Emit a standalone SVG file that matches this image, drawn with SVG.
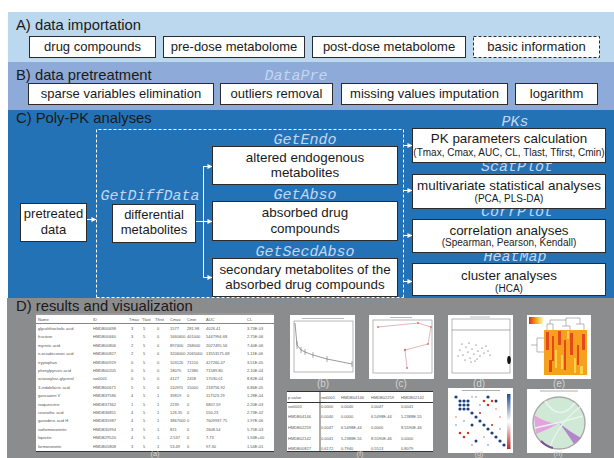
<svg xmlns="http://www.w3.org/2000/svg" width="614" height="458" viewBox="0 0 614 458">
<defs>
<style>
.t{font-family:"Liberation Sans",Arial,sans-serif;fill:#1a1a1a}
.hd{font-size:14.8px}
.bx{fill:#fff;stroke:#2b2b2b;stroke-width:1}
.bt{font-size:13px;text-anchor:middle}
.ct{font-size:13.4px;text-anchor:middle}
.sub{font-size:10px;text-anchor:middle}
.mono{font-family:"Liberation Mono","Courier New",monospace;font-style:italic;font-size:15px;fill:#c3d6f1;text-anchor:middle}
.cn{stroke:#fff;stroke-width:1;fill:none}
.dash{stroke:#fff;stroke-width:1;fill:none;stroke-dasharray:3 2}
.tb{font-family:"Liberation Sans",Arial,sans-serif;font-size:4px;fill:#555}
.pl{font-family:"Liberation Sans",Arial,sans-serif;font-size:10px;fill:#d4d4d4;text-anchor:middle}
.pb{font-size:7.5px}
.ax{stroke:#888;stroke-width:0.6;fill:none}
</style>
<marker id="ah" viewBox="0 0 6 6" refX="5.5" refY="3" markerWidth="5" markerHeight="5" orient="auto" markerUnits="userSpaceOnUse">
<path d="M0,0 L6,3 L0,6 z" fill="#fff"/>
</marker>
<linearGradient id="cbar" x1="0" y1="0" x2="0" y2="1">
<stop offset="0" stop-color="#1f4e9c"/><stop offset="0.5" stop-color="#ffffff"/><stop offset="1" stop-color="#c0282d"/>
</linearGradient>
<linearGradient id="hkey" x1="0" y1="0" x2="1" y2="0">
<stop offset="0" stop-color="#e02a1a"/><stop offset="0.5" stop-color="#f7a21b"/><stop offset="1" stop-color="#fff6b0"/>
</linearGradient>
</defs>
<rect x="0" y="0" width="614" height="458" fill="#fff"/>
<!-- section bands -->
<rect x="8" y="12" width="606" height="50" fill="#bcd8ee"/>
<rect x="8" y="62" width="606" height="48" fill="#8eaad8"/>
<rect x="8" y="110" width="606" height="188" fill="#2372b6"/>
<rect x="7" y="298" width="607" height="160" fill="#8b8c8e"/>

<text class="t hd" x="16" y="30">A) data importation</text>
<text class="t hd" x="16" y="80">B) data pretreatment</text>
<text class="t hd" x="16" y="123" fill="#14243a">C) Poly-PK analyses</text>
<text class="t hd" x="16" y="311" font-size="15">D) results and visualization</text>
<text class="mono" x="296" y="80" fill="#e6ecf7">DataPre</text>

<!-- A nodes -->
<g id="a-drug"><rect class="bx" x="29.5" y="36.5" width="126" height="21"/><text class="t bt" x="92.5" y="51">drug compounds</text></g>
<g id="a-pre"><rect class="bx" x="163.5" y="36.5" width="141" height="21"/><text class="t bt" x="234" y="51">pre-dose metabolome</text></g>
<g id="a-post"><rect class="bx" x="312.5" y="36.5" width="153" height="21"/><text class="t bt" x="389" y="51">post-dose metabolome</text></g>
<g id="a-basic"><rect x="473.5" y="36.5" width="126" height="21" fill="#fff" stroke="#2b2b2b" stroke-dasharray="3 2"/><text class="t bt" x="536.5" y="51">basic information</text></g>

<!-- B nodes -->
<g id="b-sparse"><rect class="bx" x="28.5" y="83.5" width="185" height="21"/><text class="t bt" x="121" y="98" font-size="13.3">sparse variables elimination</text></g>
<g id="b-outliers"><rect class="bx" x="220.5" y="83.5" width="112" height="21"/><text class="t bt" x="276.5" y="98">outliers removal</text></g>
<g id="b-missing"><rect class="bx" x="341.5" y="83.5" width="166" height="21"/><text class="t bt" x="424.5" y="98">missing values imputation</text></g>
<g id="b-log"><rect class="bx" x="515.5" y="83.5" width="82" height="21"/><text class="t bt" x="556.5" y="98">logarithm</text></g>

<!-- C -->
<path class="dash" d="M96.5,297.5 V129.5 H403.5 V297.5 M96.5,297.5 H403.5"/>
<text class="mono" x="150" y="200">GetDiffData</text>
<text class="mono" x="305" y="144">GetEndo</text>
<text class="mono" x="305" y="199">GetAbso</text>
<text class="mono" x="305" y="256">GetSecdAbso</text>
<text class="mono" x="515" y="126">PKs</text>
<text class="mono" x="517" y="171">ScatPlot</text>
<text class="mono" x="517" y="216">CorrPlot</text>
<text class="mono" x="515" y="261">HeatMap</text>

<g id="connectors">
<line class="cn" x1="87" y1="219.5" x2="96" y2="219.5" marker-end="url(#ah)"/>
<path class="cn" d="M195,221.5 H203.5 M203.5,166 V277.5"/>
<line class="cn" x1="203.5" y1="166.5" x2="212" y2="166.5" marker-end="url(#ah)"/>
<line class="cn" x1="203.5" y1="221.5" x2="212" y2="221.5" marker-end="url(#ah)"/>
<line class="cn" x1="203.5" y1="277.5" x2="212" y2="277.5" marker-end="url(#ah)"/>
<line class="cn" x1="403.5" y1="145.5" x2="412" y2="145.5" marker-end="url(#ah)"/>
<line class="cn" x1="403.5" y1="190.5" x2="412" y2="190.5" marker-end="url(#ah)"/>
<line class="cn" x1="403.5" y1="235.5" x2="412" y2="235.5" marker-end="url(#ah)"/>
<line class="cn" x1="403.5" y1="281.5" x2="412" y2="281.5" marker-end="url(#ah)"/>
</g>

<g id="c-pretreated"><rect class="bx" x="20.5" y="203.5" width="66" height="38"/><text class="t bt" x="53.5" y="218">pretreated</text><text class="t bt" x="53.5" y="234">data</text></g>
<g id="c-diff"><rect class="bx" x="112.5" y="204.5" width="83" height="38"/><text class="t bt" x="154" y="219">differential</text><text class="t bt" x="154" y="234">metabolites</text></g>
<g id="c-endo"><rect class="bx" x="212.5" y="146.5" width="185" height="38"/><text class="t ct" x="305" y="162">altered endogenous</text><text class="t ct" x="305" y="177">metabolites</text></g>
<g id="c-abso"><rect class="bx" x="212.5" y="201.5" width="185" height="39"/><text class="t ct" x="305" y="217">absorbed drug</text><text class="t ct" x="305" y="233">compounds</text></g>
<g id="c-secd"><rect class="bx" x="212.5" y="258.5" width="185" height="38"/><text class="t ct" x="305" y="274">secondary metabolites of the</text><text class="t ct" x="305" y="289">absorbed drug compounds</text></g>
<g id="c-pk"><rect class="bx" x="412.5" y="128.5" width="193" height="34"/><text class="t ct" x="509" y="143">PK parameters calculation</text><text class="t sub" x="509" y="156">(Tmax, Cmax, AUC, CL, Tlast, Tfirst, Cmin)</text></g>
<g id="c-scat"><rect class="bx" x="412.5" y="174.5" width="193" height="34"/><text class="t ct" x="509" y="190">multivariate statistical analyses</text><text class="t sub" x="509" y="202">(PCA, PLS-DA)</text></g>
<g id="c-corr"><rect class="bx" x="412.5" y="219.5" width="193" height="33"/><text class="t ct" x="509" y="235">correlation analyses</text><text class="t sub" x="509" y="246">(Spearman, Pearson, Kendall)</text></g>
<g id="c-heat"><rect class="bx" x="412.5" y="263.5" width="193" height="32"/><text class="t ct" x="509" y="280">cluster analyses</text><text class="t sub" x="509" y="292">(HCA)</text></g>

<!-- D: table (a) -->
<g id="d-a">
<rect x="36" y="313" width="238" height="139" fill="#fff"/>
<line x1="36" y1="314" x2="274" y2="314" stroke="#333" stroke-width="1.2"/>
<line x1="36" y1="323.5" x2="274" y2="323.5" stroke="#333" stroke-width="0.6"/>
<line x1="36" y1="451.5" x2="274" y2="451.5" stroke="#333" stroke-width="1"/>
<g class="tb">
<text y="321"><tspan x="38">Name</tspan><tspan x="93">ID</tspan><tspan x="129">Tmax</tspan><tspan x="142">Tlast</tspan><tspan x="155">Tfirst</tspan><tspan x="170">Cmax</tspan><tspan x="187">Cmin</tspan><tspan x="206">AUC</tspan><tspan x="247">CL</tspan></text>
<text y="330"><tspan x="38">glycolithocholic acid</tspan><tspan x="93">HMDB00698</tspan><tspan x="131">3</tspan><tspan x="143">5</tspan><tspan x="157">0</tspan><tspan x="170">1577</tspan><tspan x="187">281.98</tspan><tspan x="206">4026.41</tspan><tspan x="247">3.73E-03</tspan></text>
<text y="338.4"><tspan x="38">fructose</tspan><tspan x="93">HMDB00660</tspan><tspan x="131">3</tspan><tspan x="143">5</tspan><tspan x="157">0</tspan><tspan x="170">1660600</tspan><tspan x="187">401000</tspan><tspan x="206">5447994.68</tspan><tspan x="247">2.75E-06</tspan></text>
<text y="346.8"><tspan x="38">myristic acid</tspan><tspan x="93">HMDB00806</tspan><tspan x="131">2</tspan><tspan x="143">5</tspan><tspan x="157">0</tspan><tspan x="170">897400</tspan><tspan x="187">268000</tspan><tspan x="206">2027495.56</tspan><tspan x="247">7.40E-06</tspan></text>
<text y="355.2"><tspan x="38">n-octadecanoic acid</tspan><tspan x="93">HMDB00827</tspan><tspan x="131">2</tspan><tspan x="143">5</tspan><tspan x="157">0</tspan><tspan x="170">3206000</tspan><tspan x="187">2065000</tspan><tspan x="206">13553175.68</tspan><tspan x="247">1.11E-06</tspan></text>
<text y="363.6"><tspan x="38">tryptophan</tspan><tspan x="93">HMDB00929</tspan><tspan x="131">0</tspan><tspan x="143">5</tspan><tspan x="157">0</tspan><tspan x="170">103120</tspan><tspan x="187">71510</tspan><tspan x="206">427260.47</tspan><tspan x="247">3.51E-05</tspan></text>
<text y="372"><tspan x="38">phenylpyruvic acid</tspan><tspan x="93">HMDB00205</tspan><tspan x="131">0</tspan><tspan x="143">5</tspan><tspan x="157">0</tspan><tspan x="170">18070</tspan><tspan x="187">12380</tspan><tspan x="206">71589.80</tspan><tspan x="247">2.10E-04</tspan></text>
<text y="380.4"><tspan x="38">octanoylrac-glycerol</tspan><tspan x="93">ise0001</tspan><tspan x="131">0</tspan><tspan x="143">5</tspan><tspan x="157">0</tspan><tspan x="170">4127</tspan><tspan x="187">2458</tspan><tspan x="206">17030.01</tspan><tspan x="247">8.82E-04</tspan></text>
<text y="388.8"><tspan x="38">3-indolelactic acid</tspan><tspan x="93">HMDB00671</tspan><tspan x="131">5</tspan><tspan x="143">5</tspan><tspan x="157">0</tspan><tspan x="170">110970</tspan><tspan x="187">15000</tspan><tspan x="206">218756.92</tspan><tspan x="247">6.86E-05</tspan></text>
<text y="397.2"><tspan x="38">gancaonin V</tspan><tspan x="93">HMDB37586</tspan><tspan x="131">4</tspan><tspan x="143">5</tspan><tspan x="157">1</tspan><tspan x="170">39819</tspan><tspan x="187">0</tspan><tspan x="206">117523.29</tspan><tspan x="247">1.28E-04</tspan></text>
<text y="405.6"><tspan x="38">isoquercitrin</tspan><tspan x="93">HMDB37362</tspan><tspan x="131">1</tspan><tspan x="143">5</tspan><tspan x="157">1</tspan><tspan x="170">2239</tspan><tspan x="187">0</tspan><tspan x="206">6807.59</tspan><tspan x="247">2.20E-03</tspan></text>
<text y="414"><tspan x="38">ceanothic acid</tspan><tspan x="93">HMDB36851</tspan><tspan x="131">4</tspan><tspan x="143">5</tspan><tspan x="157">1</tspan><tspan x="170">126.35</tspan><tspan x="187">0</tspan><tspan x="206">550.23</tspan><tspan x="247">2.73E-02</tspan></text>
<text y="422.4"><tspan x="38">ganoderic acid H</tspan><tspan x="93">HMDB35987</tspan><tspan x="131">4</tspan><tspan x="143">5</tspan><tspan x="157">1</tspan><tspan x="170">3867000</tspan><tspan x="187">0</tspan><tspan x="206">7609937.75</tspan><tspan x="247">1.97E-06</tspan></text>
<text y="430.8"><tspan x="38">isoformononetin</tspan><tspan x="93">HMDB30994</tspan><tspan x="131">3</tspan><tspan x="143">5</tspan><tspan x="157">1</tspan><tspan x="170">821</tspan><tspan x="187">0</tspan><tspan x="206">2608.54</tspan><tspan x="247">5.75E-03</tspan></text>
<text y="439.2"><tspan x="38">liquiritin</tspan><tspan x="93">HMDB29520</tspan><tspan x="131">4</tspan><tspan x="143">5</tspan><tspan x="157">1</tspan><tspan x="170">2.537</tspan><tspan x="187">0</tspan><tspan x="206">7.73</tspan><tspan x="247">1.94E+00</tspan></text>
<text y="447.6"><tspan x="38">formononetin</tspan><tspan x="93">HMDB05808</tspan><tspan x="131">3</tspan><tspan x="143">5</tspan><tspan x="157">1</tspan><tspan x="170">53.49</tspan><tspan x="187">0</tspan><tspan x="206">97.30</tspan><tspan x="247">1.54E-01</tspan></text>
</g>
<text class="pl pb" x="155" y="456">(a)</text>
</g>

<!-- (b) -->
<g id="d-b">
<rect x="290" y="315" width="65" height="64" fill="#fff"/>
<line x1="302" y1="318.5" x2="344" y2="318.5" stroke="#aaa" stroke-width="0.8"/>
<rect class="ax" x="294" y="321" width="59" height="51"/>
<polyline points="295,323 297,345 301,350 305,352 313,355 327,359 352,364" fill="none" stroke="#555" stroke-width="0.6"/>
<g stroke="#555" stroke-width="0.5"><line x1="297" y1="341" x2="297" y2="349"/><line x1="301" y1="347" x2="301" y2="353"/><line x1="305" y1="349" x2="305" y2="355"/><line x1="313" y1="352" x2="313" y2="358"/><line x1="327" y1="356" x2="327" y2="362"/><line x1="352" y1="361" x2="352" y2="367"/></g>
<text class="pl" x="323" y="387">(b)</text>
</g>
<!-- (c) -->
<g id="d-c">
<rect x="369" y="315" width="65" height="64" fill="#fff"/>
<line x1="390" y1="317.5" x2="412" y2="317.5" stroke="#aaa" stroke-width="0.8"/>
<rect class="ax" x="373" y="320" width="59" height="53"/>
<polyline points="378,327 418,323 431,327 428,344 405,350 407,368" fill="none" stroke="#c88" stroke-width="0.6"/>
<g fill="#d77"><circle cx="378" cy="327" r="1"/><circle cx="418" cy="323" r="1"/><circle cx="431" cy="327" r="1"/><circle cx="428" cy="344" r="1"/><circle cx="405" cy="350" r="1.2"/><circle cx="407" cy="368" r="1"/></g>
<text class="pl" x="401" y="387">(c)</text>
</g>
<!-- (d) -->
<g id="d-d">
<rect x="448" y="315" width="65" height="64" fill="#fff"/>
<line x1="470" y1="317" x2="490" y2="317" stroke="#aaa" stroke-width="0.8"/>
<rect class="ax" x="452" y="319" width="58" height="54"/>
<line x1="452" y1="330" x2="510" y2="330" stroke="#777" stroke-width="0.6"/>
<g fill="#444"><circle cx="460" cy="350" r="0.6"/><circle cx="463" cy="355" r="0.6"/><circle cx="466" cy="347" r="0.6"/><circle cx="468" cy="352" r="0.6"/><circle cx="470" cy="358" r="0.6"/><circle cx="472" cy="349" r="0.6"/><circle cx="474" cy="354" r="0.6"/><circle cx="476" cy="345" r="0.6"/><circle cx="478" cy="351" r="0.6"/><circle cx="480" cy="356" r="0.6"/><circle cx="482" cy="348" r="0.6"/><circle cx="484" cy="353" r="0.6"/><circle cx="486" cy="346" r="0.6"/><circle cx="488" cy="351" r="0.6"/><circle cx="465" cy="360" r="0.6"/><circle cx="471" cy="362" r="0.6"/><circle cx="477" cy="359" r="0.6"/><circle cx="462" cy="344" r="0.6"/><circle cx="490" cy="355" r="0.6"/><circle cx="469" cy="343" r="0.6"/><circle cx="475" cy="361" r="0.6"/><circle cx="458" cy="356" r="0.6"/></g>
<ellipse cx="509" cy="360" rx="1.8" ry="4" fill="#111"/>
<text class="pl" x="479" y="387">(d)</text>
</g>
<!-- (e) -->
<g id="d-e">
<rect x="527" y="315" width="64" height="64" fill="#fff"/>
<rect x="529" y="317" width="14" height="7" fill="url(#hkey)"/>
<path d="M547,330 V324 H553 V330 M550,324 V320 H566 V326 M562,326 H570 V330 M566,320 V318 H580 V324 M576,324 H584 V330 M531,345 H537 V338 H544 M537,345 V352 H544" class="ax"/>
<rect x="544" y="330" width="43" height="45" fill="#f6a01e"/>
<g fill="#e34a1b"><rect x="546" y="332" width="3" height="18"/><rect x="552" y="336" width="2" height="25"/><rect x="558" y="331" width="3" height="14"/><rect x="564" y="340" width="2" height="30"/><rect x="570" y="333" width="3" height="22"/><rect x="577" y="345" width="2" height="20"/><rect x="582" y="334" width="3" height="16"/><rect x="549" y="360" width="3" height="12"/></g>
<g fill="#fbd34b"><rect x="555" y="350" width="2" height="18"/><rect x="561" y="355" width="2" height="14"/><rect x="574" y="358" width="2" height="15"/><rect x="580" y="366" width="3" height="8"/><rect x="567" y="331" width="2" height="8"/></g>
<text class="pl" x="559" y="387">(e)</text>
</g>
<!-- (f) -->
<g id="d-f">
<rect x="287" y="391" width="146" height="61" fill="#fff"/>
<line x1="287" y1="391.5" x2="433" y2="391.5" stroke="#333" stroke-width="1"/>
<line x1="287" y1="402.5" x2="433" y2="402.5" stroke="#333" stroke-width="1"/>
<line x1="287" y1="451.5" x2="433" y2="451.5" stroke="#333" stroke-width="1"/>
<line x1="320" y1="391" x2="320" y2="452" stroke="#333" stroke-width="0.8"/>
<g class="tb" font-size="4.4">
<text y="398.5"><tspan x="288">p-value</tspan><tspan x="321">ise0001</tspan><tspan x="341">HMDB04146</tspan><tspan x="371">HMDB02259</tspan><tspan x="401">HMDB02142</tspan></text>
<text y="407.5"><tspan x="288">ise0001</tspan><tspan x="321">0.0000</tspan><tspan x="341">0.0040</tspan><tspan x="371">0.0047</tspan><tspan x="401">0.0041</tspan></text>
<text y="418"><tspan x="288">HMDB04146</tspan><tspan x="321">0.0040</tspan><tspan x="341">0.0000</tspan><tspan x="371">6.5498E-44</tspan><tspan x="401">5.2388E-55</tspan></text>
<text y="428.5"><tspan x="288">HMDB02259</tspan><tspan x="321">0.0047</tspan><tspan x="341">6.5498E-44</tspan><tspan x="371">0.0000</tspan><tspan x="401">8.5590E-46</tspan></text>
<text y="440"><tspan x="288">HMDB02142</tspan><tspan x="321">0.0041</tspan><tspan x="341">5.2388E-55</tspan><tspan x="371">8.5590E-46</tspan><tspan x="401">0.0000</tspan></text>
<text y="450"><tspan x="288">HMDB00827</tspan><tspan x="321">0.6172</tspan><tspan x="341">0.7940</tspan><tspan x="371">0.5513</tspan><tspan x="401">0.8079</tspan></text>
</g>
<text class="pl pb" x="360" y="456">(f)</text>
</g>
<!-- (g) -->
<g id="d-g">
<rect x="448" y="388" width="65" height="65" fill="#fff"/>
<line x1="462" y1="390.5" x2="500" y2="390.5" stroke="#999" stroke-width="0.8"/>
<rect x="507" y="394" width="3.5" height="55" fill="url(#cbar)"/>
<g fill="#1f3f7a">
<circle cx="456" cy="397" r="1.6"/><circle cx="460" cy="401" r="1.6"/><circle cx="464" cy="405" r="1.6"/><circle cx="468" cy="409" r="1.6"/><circle cx="472" cy="413" r="1.6"/><circle cx="476" cy="417" r="1.6"/><circle cx="480" cy="421" r="1.6"/><circle cx="484" cy="425" r="1.6"/><circle cx="488" cy="429" r="1.6"/><circle cx="492" cy="433" r="1.6"/><circle cx="496" cy="437" r="1.6"/><circle cx="500" cy="441" r="1.6"/><circle cx="504" cy="445" r="1.6"/>
<circle cx="464" cy="401" r="1.6"/><circle cx="468" cy="401" r="1.6"/><circle cx="460" cy="405" r="1.6"/><circle cx="468" cy="405" r="1.6"/><circle cx="460" cy="409" r="1.6"/><circle cx="464" cy="409" r="1.6"/><circle cx="488" cy="397" r="1.6"/><circle cx="472" cy="425" r="1.5"/><circle cx="476" cy="441" r="1.5"/><circle cx="496" cy="401" r="1.5"/>
</g>
<g fill="#c0392b"><circle cx="484" cy="401" r="1.3"/><circle cx="488" cy="405" r="1.3"/><circle cx="492" cy="401" r="1.2"/><circle cx="460" cy="433" r="1.3"/><circle cx="464" cy="437" r="1.3"/><circle cx="468" cy="433" r="1.2"/><circle cx="480" cy="413" r="1.1"/><circle cx="492" cy="425" r="1.1"/></g>
<g fill="#f0a58f"><circle cx="456" cy="417" r="0.9"/><circle cx="472" cy="397" r="0.9"/><circle cx="500" cy="417" r="0.9"/><circle cx="484" cy="437" r="0.9"/><circle cx="496" cy="409" r="0.9"/></g>
<g fill="#8fb6dc"><circle cx="456" cy="425" r="0.9"/><circle cx="476" cy="397" r="0.9"/><circle cx="480" cy="405" r="0.9"/><circle cx="464" cy="421" r="0.9"/><circle cx="500" cy="429" r="0.9"/><circle cx="488" cy="445" r="0.9"/><circle cx="472" cy="445" r="0.9"/></g>
<text class="pl pb" x="479" y="456">(g)</text>
</g>
<!-- (h) -->
<g id="d-h">
<rect x="527" y="389" width="64" height="64" fill="#fff"/>
<line x1="540" y1="391" x2="578" y2="391" stroke="#999" stroke-width="0.8"/>
<circle cx="559" cy="423" r="26" fill="#cfe9d6" stroke="#aaa" stroke-width="1.4"/>
<path d="M534,415 Q550,425 559,423 Q548,430 536,434 Z" fill="#e4a2de"/>
<path d="M574,444 Q565,430 559,423 Q570,432 581,438 Z" fill="#b286c9"/>
<path d="M545,401 Q559,423 575,403" fill="none" stroke="#e8f5ec" stroke-width="1.5"/>
<path d="M535,428 Q559,423 583,416" fill="none" stroke="#e8f5ec" stroke-width="1.5"/>
<path d="M550,447 Q559,423 580,407" fill="none" stroke="#e8f5ec" stroke-width="1.2"/>
<path d="M541,441 A26,26 0 0 0 553,448" fill="none" stroke="#7a4f99" stroke-width="2"/>
<text class="pl pb" x="558" y="456">(h)</text>
</g>
</svg>
